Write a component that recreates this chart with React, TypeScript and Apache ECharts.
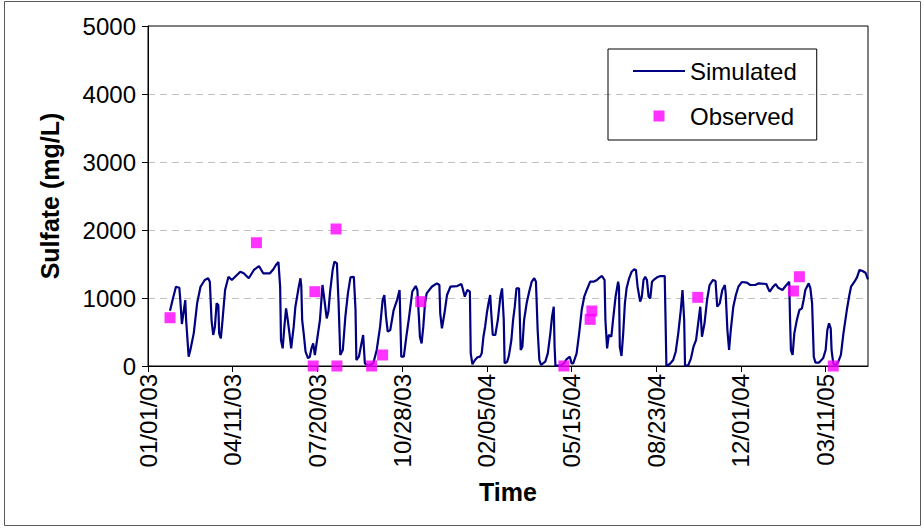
import React, { useEffect, useRef } from "react";
import * as echarts from "echarts";

// Days are counted from 01/01/03 (day 0).
const START_UTC = Date.UTC(2003, 0, 1);
const DAY_MS = 86400000;

// Simulated sulfate concentration (mg/L), vertex by vertex.
const simDay = [
  26, 29, 33, 37, 38, 40, 44, 45, 48, 50, 54, 58, 62, 67, 71, 73, 75, 77, 79, 81,
  83, 84, 86, 88, 91, 95, 99, 105, 109, 113, 119, 125, 131, 136, 144, 148, 151, 154, 156, 157,
  159, 161, 163, 165, 167, 169, 172, 174, 178, 180, 181, 182, 184, 186, 189, 191, 193, 195, 197, 199,
  203, 206, 208, 211, 213, 215, 218, 220, 223, 225, 227, 230, 233, 236, 239, 243, 245, 246, 249, 252,
  254, 256, 260, 266, 270, 274, 277, 279, 281, 283, 286, 290, 294, 297, 299, 302, 305, 308, 312, 316,
  318, 320, 321, 323, 325, 327, 329, 335, 341, 344, 345, 347, 350, 353, 357, 365, 370, 372, 374, 377,
  380, 381, 383, 386, 389, 392, 394, 396, 398, 400, 402, 404, 405, 407, 410, 413, 416, 418, 420, 421,
  424, 426, 429, 431, 433, 435, 438, 440, 442, 444, 447, 450, 453, 456, 458, 460, 462, 464, 469, 472,
  475, 477, 479, 480, 481, 487, 491, 494, 498, 500, 502, 506, 509, 512, 515, 518, 522, 526, 530, 533,
  536, 539, 540, 542, 544, 547, 549, 552, 555, 556, 557, 559, 561, 563, 565, 568, 571, 574, 576, 578,
  581, 583, 585, 587, 589, 591, 593, 595, 597, 601, 605, 610, 611, 612, 616, 620, 623, 626, 629, 631,
  633, 634, 638, 641, 644, 647, 650, 652, 654, 657, 660, 663, 667, 670, 672, 675, 678, 681, 682, 684,
  686, 688, 691, 694, 697, 701, 707, 711, 717, 721, 730, 732, 734, 738, 741, 744, 749, 752, 757, 758,
  759, 761, 763, 766, 769, 772, 774, 776, 780, 782, 784, 785, 786, 788, 792, 795, 797, 800, 802, 804,
  806, 807, 809, 811, 815, 818, 821, 825, 828, 830, 834, 837, 840, 843, 847, 850,
];
const simValue = [
  813, 970, 1166, 1151, 995, 618, 970, 676, 137, 235, 480, 922, 1166, 1265, 1290, 1240, 676, 456, 578, 922,
  897, 480, 407, 676, 1118, 1313, 1265, 1338, 1387, 1363, 1290, 1412, 1470, 1363, 1363, 1422, 1485, 1529, 1166, 382,
  260, 578, 848, 676, 480, 260, 578, 872, 1166, 1290, 1166, 676, 456, 210, 113, 137, 260, 333, 162, 333,
  676, 1191, 1000, 700, 800, 1093, 1412, 1534, 1510, 922, 162, 235, 725, 1069, 1304, 1313, 823, 88, 137, 333,
  456, 40, 5, 40, 235, 578, 970, 1044, 725, 505, 529, 823, 970, 1118, 137, 137, 431, 701, 1093, 1176,
  1118, 676, 431, 333, 578, 922, 1069, 1166, 1216, 1191, 775, 554, 775, 1044, 1166, 1176, 1206, 1118, 1019, 1118,
  1093, 186, 25, 88, 128, 137, 186, 431, 578, 775, 922, 1044, 823, 456, 456, 676, 1019, 1142, 676, 40,
  63, 150, 382, 676, 872, 1142, 1142, 235, 284, 676, 922, 1093, 1240, 1290, 1240, 529, 88, 15, 63, 186,
  480, 725, 872, 284, 5, 5, 40, 98, 137, 40, 40, 186, 480, 823, 1019, 1118, 1240, 1240, 1265, 1300,
  1323, 1265, 676, 260, 456, 431, 676, 1019, 1240, 1166, 284, 147, 480, 922, 1142, 1290, 1387, 1422, 1412, 1166,
  946, 1019, 1265, 1313, 1265, 1019, 995, 1240, 1265, 1304, 1323, 1323, 676, 0, 29, 88, 210, 480, 823, 1118,
  676, 0, 15, 113, 284, 382, 676, 872, 431, 627, 970, 1191, 1265, 1250, 872, 922, 1118, 1191, 1069, 529,
  235, 529, 872, 1044, 1166, 1235, 1225, 1191, 1191, 1216, 1206, 1142, 1093, 1166, 1206, 1150, 1118, 1166, 1240, 676,
  235, 162, 480, 676, 823, 848, 970, 1118, 1216, 1142, 922, 529, 137, 49, 49, 88, 113, 235, 529, 627,
  554, 235, 40, 0, 63, 162, 480, 823, 1044, 1166, 1240, 1304, 1412, 1401, 1372, 1275,
];

// Observed sulfate samples (mg/L).
const obsDay = [26, 128, 195, 197, 222, 223, 264, 277, 322, 491, 522, 524, 649, 762, 769, 809];
const obsValue = [710, 1813, 0, 1093, 2015, 0, 0, 162, 946, 0, 686, 809, 1010, 1103, 1313, 0];

// Axis ranges and tick spacing.
const xMaxDay = 850;
const xTickDays = 100;
const yMax = 5000;
const yTick = 1000;

const FONT = "'Liberation Sans', Arial, sans-serif";
const LINE_COLOR = "#000080";
const MARK_COLOR = "#ff00ff";

function dayLabel(d: number): string {
  const dt = new Date(START_UTC + d * DAY_MS);
  const mm = String(dt.getUTCMonth() + 1).padStart(2, "0");
  const dd = String(dt.getUTCDate()).padStart(2, "0");
  const yy = String(dt.getUTCFullYear() % 100).padStart(2, "0");
  return `${mm}/${dd}/${yy}`;
}

export default function App() {
  const ref = useRef<HTMLDivElement>(null);

  useEffect(() => {
    if (!ref.current) return;
    const chart = echarts.init(ref.current, undefined, { renderer: "svg" });

    chart.setOption({
      animation: false,
      backgroundColor: "#ffffff",
      textStyle: { fontFamily: FONT },
      grid: {
        left: 148,
        top: 26,
        width: 720,
        height: 340,
        show: true,
        borderColor: "#000",
        borderWidth: 1,
        backgroundColor: "transparent",
      },
      legend: {
        orient: "vertical",
        left: 608,
        top: 49,
        padding: [10, 20, 12, 25],
        itemGap: 21,
        itemWidth: 52,
        itemHeight: 11,
        borderColor: "#000",
        borderWidth: 1,
        symbolKeepAspect: true,
        textStyle: { fontSize: 24, color: "#000", fontFamily: FONT },
        data: [
          { name: "Simulated", icon: "path://M0,0H52V2H0Z" },
          { name: "Observed", icon: "path://M0,0H10V10H0Z" },
        ],
      },
      xAxis: {
        type: "value",
        min: 0,
        max: xMaxDay,
        interval: xTickDays,
        name: "Time",
        nameLocation: "middle",
        nameGap: 113,
        nameTextStyle: { fontSize: 25, fontWeight: "bold", color: "#000", fontFamily: FONT },
        axisLine: { show: true, lineStyle: { color: "#000", width: 1 } },
        axisTick: { show: true, length: 6, lineStyle: { color: "#000" } },
        axisLabel: {
          rotate: 90,
          fontSize: 24,
          margin: 8,
          color: "#000",
          fontFamily: FONT,
          showMaxLabel: false,
          formatter: (v: number) => dayLabel(v),
        },
        splitLine: { show: false },
      },
      yAxis: {
        type: "value",
        min: 0,
        max: yMax,
        interval: yTick,
        name: "Sulfate (mg/L)",
        nameLocation: "middle",
        nameGap: 86,
        nameTextStyle: { fontSize: 25, fontWeight: "bold", color: "#000", fontFamily: FONT },
        axisLine: { show: true, lineStyle: { color: "#000", width: 1 } },
        axisTick: { show: true, length: 6, lineStyle: { color: "#000" } },
        axisLabel: {
          fontSize: 24,
          margin: 12,
          color: "#000",
          fontFamily: FONT,
          formatter: (v: number) => String(v),
        },
        splitLine: {
          show: true,
          showMinLine: false,
          showMaxLine: false,
          lineStyle: { color: "#c0c0c0", type: [7, 5], width: 1 },
        },
      },
      graphic: [
        {
          type: "rect",
          shape: { x: 4.5, y: 1.5, width: 916, height: 524 },
          style: { fill: "none", stroke: "#5a5a5a", lineWidth: 1 },
          silent: true,
        },
      ],
      series: [
        {
          name: "Simulated",
          type: "line",
          data: simDay.map((d, i) => [d, simValue[i]]),
          showSymbol: false,
          symbol: "none",
          lineStyle: { color: LINE_COLOR, width: 2.2 },
          itemStyle: { color: LINE_COLOR },
          z: 2,
        },
        {
          name: "Observed",
          type: "scatter",
          data: obsDay.map((d, i) => [d, obsValue[i]]),
          symbol: "rect",
          symbolSize: 11,
          clip: false,
          itemStyle: { color: MARK_COLOR },
          z: 3,
        },
      ],
    });

    return () => chart.dispose();
  }, []);

  return (
    <div
      ref={ref}
      style={{ position: "fixed", left: 0, top: 0, width: 924, height: 528, background: "#fff" }}
    />
  );
}
